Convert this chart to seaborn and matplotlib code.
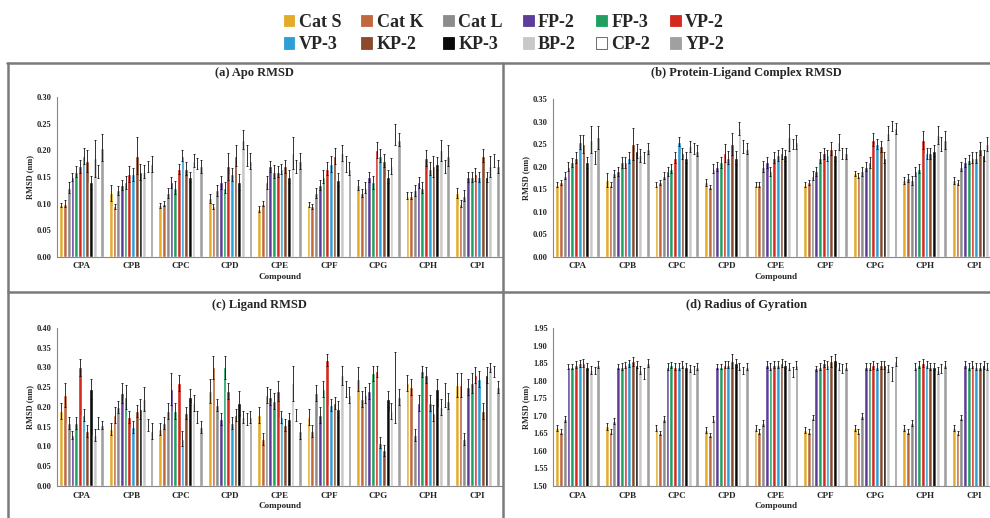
import numpy as np
import pandas as pd
import matplotlib
matplotlib.use("Agg")
import matplotlib.pyplot as plt
import seaborn as sns
from matplotlib.lines import Line2D
from matplotlib.patches import Patch
from matplotlib.ticker import MultipleLocator, FormatStrFormatter

# categorie e serie
compounds = ['CPA', 'CPB', 'CPC', 'CPD', 'CPE', 'CPF', 'CPG', 'CPH', 'CPI']
series = ['Cat S', 'Cat K', 'Cat L', 'FP-2', 'FP-3', 'VP-2',
          'VP-3', 'KP-2', 'KP-3', 'BP-2', 'CP-2', 'YP-2']
colors = ['#E2AC2A', '#C0683C', '#8C8C8C', '#5E3C99', '#1FA060', '#D42A1E',
          '#2B9FD6', '#8B4A2B', '#0A0A0A', '#C8C8C8', '#FFFFFF', '#A0A0A0']

# (a) Apo RMSD - righe = composti, colonne = serie
apo_rmsd = [
    [0.097, 0.100, 0.130, 0.150, 0.160, 0.170, 0.190, 0.180, 0.140, 0.185, 0.160, 0.205],
    [0.120, 0.095, 0.125, 0.135, 0.140, 0.155, 0.155, 0.190, 0.160, 0.160, 0.170, 0.175],
    [0.097, 0.100, 0.120, 0.140, 0.130, 0.165, 0.190, 0.165, 0.150, 0.180, 0.175, 0.170],
    [0.110, 0.095, 0.125, 0.140, 0.130, 0.170, 0.155, 0.190, 0.140, 0.220, 0.190, 0.180],
    [0.090, 0.100, 0.140, 0.170, 0.160, 0.160, 0.165, 0.170, 0.150, 0.195, 0.170, 0.180],
    [0.098, 0.095, 0.120, 0.135, 0.150, 0.165, 0.175, 0.190, 0.145, 0.195, 0.175, 0.165],
    [0.135, 0.120, 0.130, 0.150, 0.140, 0.200, 0.190, 0.180, 0.150, 0.170, 0.230, 0.220],
    [0.115, 0.115, 0.125, 0.140, 0.130, 0.185, 0.165, 0.170, 0.175, 0.200, 0.170, 0.190],
    [0.120, 0.100, 0.115, 0.150, 0.150, 0.155, 0.150, 0.190, 0.150, 0.170, 0.180, 0.170],
]
apo_err = [
    [0.004, 0.006, 0.010, 0.008, 0.010, 0.012, 0.015, 0.020, 0.012, 0.035, 0.012, 0.025],
    [0.015, 0.005, 0.008, 0.010, 0.012, 0.015, 0.012, 0.035, 0.015, 0.012, 0.010, 0.015],
    [0.005, 0.005, 0.010, 0.010, 0.012, 0.010, 0.010, 0.012, 0.010, 0.012, 0.010, 0.012],
    [0.008, 0.005, 0.010, 0.012, 0.010, 0.025, 0.012, 0.020, 0.015, 0.018, 0.020, 0.015],
    [0.005, 0.005, 0.012, 0.010, 0.012, 0.010, 0.010, 0.012, 0.012, 0.030, 0.012, 0.015],
    [0.005, 0.005, 0.010, 0.010, 0.012, 0.012, 0.015, 0.015, 0.012, 0.015, 0.015, 0.012],
    [0.010, 0.008, 0.010, 0.010, 0.012, 0.015, 0.012, 0.012, 0.012, 0.015, 0.020, 0.012],
    [0.006, 0.006, 0.010, 0.010, 0.010, 0.015, 0.012, 0.020, 0.012, 0.020, 0.012, 0.020],
    [0.010, 0.006, 0.010, 0.010, 0.010, 0.012, 0.010, 0.012, 0.010, 0.020, 0.012, 0.012],
]

# (b) Protein-Ligand Complex RMSD
complex_rmsd = [
    [0.160, 0.165, 0.180, 0.200, 0.210, 0.220, 0.255, 0.250, 0.210, 0.260, 0.220, 0.265],
    [0.170, 0.160, 0.185, 0.190, 0.210, 0.210, 0.220, 0.250, 0.235, 0.225, 0.220, 0.240],
    [0.160, 0.165, 0.180, 0.190, 0.195, 0.220, 0.255, 0.230, 0.220, 0.245, 0.240, 0.235],
    [0.165, 0.155, 0.195, 0.200, 0.210, 0.230, 0.220, 0.250, 0.220, 0.285, 0.245, 0.240],
    [0.160, 0.160, 0.200, 0.210, 0.190, 0.220, 0.225, 0.230, 0.225, 0.265, 0.250, 0.255],
    [0.160, 0.165, 0.180, 0.190, 0.220, 0.230, 0.225, 0.240, 0.225, 0.255, 0.230, 0.230],
    [0.185, 0.180, 0.190, 0.200, 0.210, 0.260, 0.250, 0.245, 0.220, 0.275, 0.290, 0.285],
    [0.170, 0.175, 0.170, 0.190, 0.195, 0.260, 0.230, 0.230, 0.235, 0.270, 0.250, 0.260],
    [0.170, 0.165, 0.200, 0.210, 0.215, 0.220, 0.220, 0.240, 0.225, 0.250, 0.240, 0.250],
]
complex_err = [
    [0.005, 0.005, 0.008, 0.010, 0.010, 0.012, 0.015, 0.020, 0.012, 0.030, 0.015, 0.025],
    [0.015, 0.005, 0.008, 0.010, 0.012, 0.012, 0.012, 0.035, 0.015, 0.015, 0.012, 0.012],
    [0.005, 0.006, 0.008, 0.010, 0.010, 0.012, 0.010, 0.012, 0.012, 0.012, 0.012, 0.012],
    [0.008, 0.005, 0.010, 0.010, 0.012, 0.020, 0.015, 0.025, 0.015, 0.015, 0.015, 0.012],
    [0.005, 0.005, 0.012, 0.012, 0.010, 0.012, 0.012, 0.012, 0.012, 0.030, 0.012, 0.015],
    [0.006, 0.006, 0.010, 0.010, 0.012, 0.012, 0.012, 0.015, 0.012, 0.018, 0.012, 0.012],
    [0.006, 0.006, 0.010, 0.010, 0.012, 0.015, 0.012, 0.012, 0.012, 0.015, 0.012, 0.012],
    [0.008, 0.008, 0.010, 0.010, 0.010, 0.020, 0.012, 0.012, 0.012, 0.020, 0.015, 0.020],
    [0.008, 0.006, 0.010, 0.010, 0.010, 0.012, 0.012, 0.015, 0.012, 0.015, 0.012, 0.015],
]

# (c) Ligand RMSD
ligand_rmsd = [
    [0.190, 0.230, 0.160, 0.130, 0.160, 0.300, 0.180, 0.140, 0.245, 0.130, 0.160, 0.155],
    [0.145, 0.180, 0.200, 0.235, 0.225, 0.175, 0.150, 0.190, 0.195, 0.220, 0.155, 0.140],
    [0.145, 0.160, 0.190, 0.245, 0.190, 0.260, 0.120, 0.185, 0.225, 0.210, 0.175, 0.150],
    [0.240, 0.300, 0.205, 0.170, 0.300, 0.240, 0.160, 0.180, 0.210, 0.175, 0.170, 0.175],
    [0.180, 0.120, 0.230, 0.225, 0.215, 0.240, 0.175, 0.155, 0.170, 0.260, 0.180, 0.140],
    [0.175, 0.140, 0.235, 0.180, 0.245, 0.320, 0.205, 0.210, 0.195, 0.280, 0.245, 0.230],
    [0.270, 0.220, 0.230, 0.240, 0.285, 0.290, 0.110, 0.090, 0.220, 0.190, 0.250, 0.225],
    [0.260, 0.250, 0.130, 0.210, 0.290, 0.280, 0.210, 0.185, 0.245, 0.200, 0.230, 0.215],
    [0.255, 0.255, 0.120, 0.250, 0.260, 0.280, 0.270, 0.190, 0.280, 0.300, 0.290, 0.250],
]
ligand_err = [
    [0.020, 0.030, 0.015, 0.010, 0.015, 0.022, 0.015, 0.015, 0.025, 0.015, 0.015, 0.010],
    [0.015, 0.020, 0.015, 0.025, 0.030, 0.015, 0.015, 0.015, 0.025, 0.030, 0.015, 0.020],
    [0.015, 0.015, 0.020, 0.040, 0.020, 0.020, 0.020, 0.015, 0.020, 0.020, 0.015, 0.015],
    [0.030, 0.030, 0.015, 0.015, 0.030, 0.020, 0.015, 0.015, 0.030, 0.015, 0.015, 0.015],
    [0.020, 0.015, 0.020, 0.020, 0.020, 0.025, 0.015, 0.015, 0.015, 0.045, 0.015, 0.020],
    [0.020, 0.015, 0.020, 0.020, 0.020, 0.015, 0.015, 0.015, 0.020, 0.025, 0.020, 0.020],
    [0.030, 0.020, 0.020, 0.020, 0.020, 0.015, 0.015, 0.015, 0.020, 0.020, 0.090, 0.020],
    [0.020, 0.020, 0.015, 0.020, 0.015, 0.020, 0.020, 0.020, 0.025, 0.020, 0.030, 0.020],
    [0.030, 0.030, 0.015, 0.020, 0.025, 0.020, 0.020, 0.020, 0.020, 0.012, 0.015, 0.015],
]

# (d) Radius of Gyration
rg_vals = [
    [1.665, 1.655, 1.690, 1.840, 1.840, 1.845, 1.850, 1.850, 1.840, 1.830, 1.830, 1.845],
    [1.670, 1.655, 1.685, 1.840, 1.840, 1.845, 1.850, 1.855, 1.845, 1.830, 1.820, 1.850],
    [1.665, 1.650, 1.690, 1.840, 1.845, 1.840, 1.840, 1.845, 1.840, 1.835, 1.830, 1.840],
    [1.660, 1.645, 1.690, 1.840, 1.840, 1.845, 1.845, 1.855, 1.850, 1.840, 1.830, 1.840],
    [1.665, 1.655, 1.680, 1.845, 1.840, 1.845, 1.845, 1.850, 1.845, 1.840, 1.825, 1.845],
    [1.660, 1.655, 1.695, 1.835, 1.840, 1.850, 1.845, 1.855, 1.860, 1.840, 1.835, 1.840],
    [1.665, 1.655, 1.700, 1.840, 1.840, 1.845, 1.840, 1.845, 1.845, 1.835, 1.820, 1.855],
    [1.665, 1.655, 1.680, 1.840, 1.845, 1.850, 1.845, 1.840, 1.840, 1.830, 1.835, 1.845],
    [1.665, 1.650, 1.695, 1.845, 1.840, 1.845, 1.840, 1.840, 1.845, 1.840, 1.830, 1.845],
]
rg_err = [
    [0.008, 0.006, 0.008, 0.008, 0.008, 0.010, 0.010, 0.012, 0.010, 0.012, 0.010, 0.010],
    [0.010, 0.006, 0.008, 0.008, 0.010, 0.008, 0.010, 0.012, 0.010, 0.012, 0.015, 0.012],
    [0.008, 0.006, 0.008, 0.010, 0.008, 0.010, 0.010, 0.010, 0.010, 0.010, 0.012, 0.010],
    [0.008, 0.006, 0.008, 0.008, 0.008, 0.010, 0.010, 0.020, 0.012, 0.010, 0.010, 0.010],
    [0.008, 0.006, 0.008, 0.010, 0.010, 0.010, 0.010, 0.012, 0.010, 0.010, 0.015, 0.012],
    [0.008, 0.006, 0.008, 0.008, 0.010, 0.010, 0.012, 0.015, 0.015, 0.010, 0.012, 0.010],
    [0.008, 0.006, 0.008, 0.010, 0.010, 0.012, 0.010, 0.012, 0.012, 0.010, 0.020, 0.012],
    [0.008, 0.006, 0.008, 0.010, 0.010, 0.012, 0.010, 0.010, 0.010, 0.010, 0.012, 0.010],
    [0.008, 0.006, 0.008, 0.010, 0.010, 0.010, 0.010, 0.010, 0.012, 0.010, 0.012, 0.010],
]

sns.set_style("white")
plt.rcParams['font.family'] = ['Liberation Serif', 'DejaVu Serif']
plt.rcParams['font.weight'] = 'bold'


def disegna(ax, valori, errori, ymin, ymax, passo):
    df = pd.DataFrame(valori, index=compounds, columns=series)
    df = df.reset_index().melt(id_vars='index', var_name='serie', value_name='valore')
    df = df.rename(columns={'index': 'composto'})
    sns.barplot(data=df, x='composto', y='valore', hue='serie',
                order=compounds, hue_order=series, palette=colors,
                saturation=1, errorbar=None, width=0.9, legend=False, ax=ax)
    barre = list(ax.containers)
    for i, cont in enumerate(barre):
        xs = [p.get_x() + p.get_width() / 2 for p in cont]
        ys = [p.get_height() for p in cont]
        es = [errori[j][i] for j in range(len(compounds))]
        ax.errorbar(xs, ys, yerr=es, fmt='none', ecolor='#111111',
                    elinewidth=0.6, capsize=1.0, capthick=0.6)
    ax.set_ylim(ymin, ymax)
    ax.set_xlim(-0.5, len(compounds) - 0.5)
    ax.yaxis.set_major_locator(MultipleLocator(passo))
    ax.yaxis.set_major_formatter(FormatStrFormatter('%.2f'))
    ax.set_xticks(range(len(compounds)))
    ax.set_xticklabels(compounds, fontsize=6.5, fontweight='bold')
    ax.set_xticks(np.arange(-0.5, len(compounds)), minor=True)
    ax.tick_params(axis='x', which='major', length=0, pad=4)
    ax.tick_params(axis='x', which='minor', length=2, color='#888888', width=0.6)
    ax.tick_params(axis='y', labelsize=6, length=2, color='#888888', width=0.6, pad=2)
    for lab in ax.get_yticklabels():
        lab.set_fontweight('bold')
    ax.set_xlabel('Compound', fontsize=6.5, fontweight='bold', labelpad=2)
    ax.set_ylabel('RMSD (nm)', fontsize=6, fontweight='bold', labelpad=2)
    for s in ['top', 'right']:
        ax.spines[s].set_visible(False)
    for s in ['left', 'bottom']:
        ax.spines[s].set_color('#888888')
        ax.spines[s].set_linewidth(0.8)
    ax.patch.set_alpha(0)


fig = plt.figure(figsize=(9.9, 5.18), dpi=100)
ax_a = fig.add_axes([0.0576, 0.504, 0.4495, 0.309])
ax_b = fig.add_axes([0.5586, 0.504, 0.4505, 0.305])
ax_c = fig.add_axes([0.0576, 0.0618, 0.4495, 0.305])
ax_d = fig.add_axes([0.5586, 0.0618, 0.4505, 0.305])

disegna(ax_a, apo_rmsd, apo_err, 0, 0.30, 0.05)
disegna(ax_b, complex_rmsd, complex_err, 0, 0.35, 0.05)
disegna(ax_c, ligand_rmsd, ligand_err, 0, 0.40, 0.05)
disegna(ax_d, rg_vals, rg_err, 1.50, 1.95, 0.05)

# titoli dei pannelli
fig.text(0.257, 0.859, '(a) Apo RMSD', ha='center', va='center', fontsize=9, fontweight='bold')
fig.text(0.754, 0.859, '(b) Protein-Ligand Complex RMSD', ha='center', va='center', fontsize=9, fontweight='bold')
fig.text(0.262, 0.411, '(c) Ligand RMSD', ha='center', va='center', fontsize=9, fontweight='bold')
fig.text(0.754, 0.411, '(d) Radius of Gyration', ha='center', va='center', fontsize=9, fontweight='bold')

# cornici
bordo = dict(color='#7a7a7a', linewidth=1.8, transform=fig.transFigure)
fig.add_artist(Line2D([0.007, 1.0], [0.878, 0.878], **bordo))
fig.add_artist(Line2D([0.008, 0.008], [0.878, 0.0], **bordo))
fig.add_artist(Line2D([0.508, 0.508], [0.878, 0.0], **bordo))
fig.add_artist(Line2D([0.008, 1.0], [0.4363, 0.4363], **bordo))

# legenda: due righe da sei, riempite per riga
maniglie = [Patch(facecolor=c, edgecolor='#555555' if c == '#FFFFFF' else c, linewidth=0.6)
            for c in colors]
ordine = [k for col in range(6) for k in (col, col + 6)]
fig.legend([maniglie[k] for k in ordine], [series[k] for k in ordine],
           loc='center', bbox_to_anchor=(0.509, 0.935), ncol=6,
           frameon=False, prop={'size': 13, 'weight': 'bold'},
           handlelength=0.6, handleheight=0.6, handletextpad=0.25,
           columnspacing=1.1, labelspacing=0.3)

fig.savefig('out.png', dpi=100)
